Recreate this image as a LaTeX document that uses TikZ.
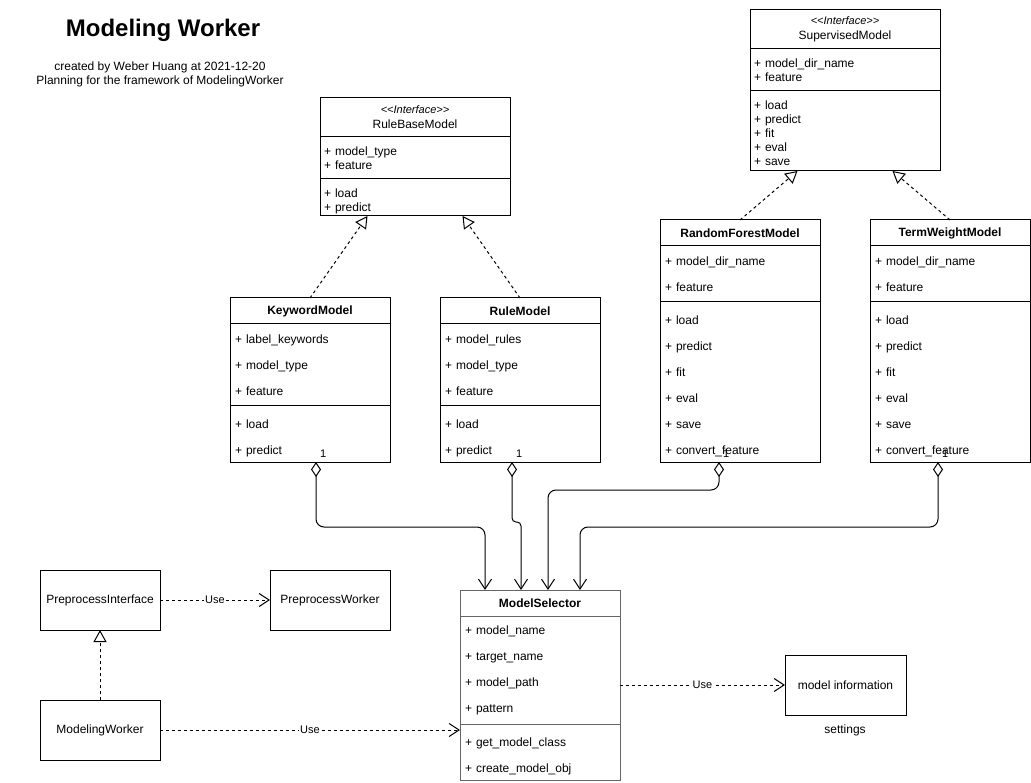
\documentclass[tikz,border=0pt]{standalone}
\usepackage{fontspec}
\setmainfont{Liberation Sans}
\usetikzlibrary{positioning,calc,arrows.meta}

\begin{document}
\begin{tikzpicture}[x=1pt, y=-1pt,
	every node/.style={outer sep=0pt, font=\fontsize{12}{14}\selectfont},
	head/.style={draw, anchor=north west, inner sep=0pt, minimum height=26pt, font=\fontsize{12}{14}\selectfont\bfseries},
	ihead/.style={draw, anchor=north west, inner sep=0pt, minimum height=39pt, align=center, font=\fontsize{12}{15}\selectfont},
	rows/.style={draw, align=left, inner xsep=5pt, inner ysep=0pt, font=\fontsize{12}{26}\selectfont},
	irows/.style={draw, align=left, inner xsep=4pt, inner ysep=0pt, font=\fontsize{12}{14}\selectfont},
	box/.style={draw, minimum width=120pt, minimum height=60pt, inner sep=0pt},
	mult/.style={anchor=south west, inner sep=1pt, xshift=3pt, yshift=4pt, font=\fontsize{11}{13}\selectfont},
	uselabel/.style={fill=white, inner sep=1pt, font=\fontsize{11}{13}\selectfont},
	realize/.style={dash pattern=on 3pt off 3pt, arrows={-Triangle[open,length=12pt,width=13pt]}},
	depend/.style={dash pattern=on 3pt off 3pt, arrows={-Straight Barb[length=10pt,width=13pt]}},
	aggr/.style={rounded corners=8pt, arrows={Diamond[open,length=15pt,width=10pt]-Straight Barb[length=10pt,width=13pt]}},
	line width=1pt]

	\fill[white] (0,0) rectangle (1031,783);
	\useasboundingbox (0,0) rectangle (1031,783);

	% title
	\node[font=\fontsize{24}{28}\selectfont\bfseries] (title) at (163,30) {Modeling Worker};
	\node[align=center] (subtitle) at (160,74) {created by Weber Huang at 2021-12-20\\Planning for the framework of ModelingWorker};

	% interfaces
	\node[ihead, minimum width=190pt] (rbhead) at (320,98) {{\fontsize{11}{12}\selectfont\textit{\textless\kern0pt\textless Interface\textgreater\kern0pt\textgreater}}\\RuleBaseModel};
	\node[irows, text width=182pt, minimum height=42pt, below=0pt of rbhead] (rbattr) {+ model\_type\\+ feature};
	\node[irows, text width=182pt, minimum height=37pt, text height=17pt, below=0pt of rbattr] (rbops) {+ load\\+ predict};

	\node[ihead, minimum width=190pt] (svhead) at (750,10) {{\fontsize{11}{12}\selectfont\textit{\textless\kern0pt\textless Interface\textgreater\kern0pt\textgreater}}\\SupervisedModel};
	\node[irows, text width=182pt, minimum height=42pt, below=0pt of svhead] (svattr) {+ model\_dir\_name\\+ feature};
	\node[irows, text width=182pt, minimum height=80pt, text height=13pt, below=0pt of svattr] (svops) {+ load\\+ predict\\+ fit\\+ eval\\+ save};

	% models
	\node[head, minimum width=160pt] (kwhead) at (230,298) {KeywordModel};
	\node[rows, text width=150pt, minimum height=82pt, below=0pt of kwhead] (kwattr) {+ label\_keywords\\+ model\_type\\+ feature};
	\node[rows, text width=150pt, minimum height=56pt, text height=17pt, below=0pt of kwattr] (kwops) {+ load\\+ predict};

	\node[head, minimum width=160pt] (rulehead) at (440,298) {RuleModel};
	\node[rows, text width=150pt, minimum height=82pt, below=0pt of rulehead] (ruleattr) {+ model\_rules\\+ model\_type\\+ feature};
	\node[rows, text width=150pt, minimum height=56pt, text height=17pt, below=0pt of ruleattr] (ruleops) {+ load\\+ predict};

	\node[head, minimum width=160pt] (forhead) at (660,220) {RandomForestModel};
	\node[rows, text width=150pt, minimum height=56pt, below=0pt of forhead] (forattr) {+ model\_dir\_name\\+ feature};
	\node[rows, text width=150pt, minimum height=160pt, text height=18pt, below=0pt of forattr] (forops) {+ load\\+ predict\\+ fit\\+ eval\\+ save\\+ convert\_feature};

	\node[head, minimum width=160pt] (termhead) at (870,220) {TermWeightModel};
	\node[rows, text width=150pt, minimum height=56pt, below=0pt of termhead] (termattr) {+ model\_dir\_name\\+ feature};
	\node[rows, text width=150pt, minimum height=160pt, text height=18pt, below=0pt of termattr] (termops) {+ load\\+ predict\\+ fit\\+ eval\\+ save\\+ convert\_feature};

	% selector
	\node[head, draw=black!60, minimum width=160pt] (selhead) at (460,590) {ModelSelector};
	\node[rows, draw=black!60, text width=150pt, minimum height=108pt, below=0pt of selhead] (selattr) {+ model\_name\\+ target\_name\\+ model\_path\\+ pattern};
	\node[rows, draw=black!60, text width=150pt, minimum height=56pt, text height=17pt, below=0pt of selattr] (selops) {+ get\_model\_class\\+ create\_model\_obj};

	% workers
	\node[box] (pinterface) at (100,600) {PreprocessInterface};
	\node[box] (pworker) at (330,600) {PreprocessWorker};
	\node[box] (modeling) at (100,730) {ModelingWorker};
	\node[box, minimum width=121pt] (info) at (845.5,685) {model information};
	\node (settings) at (845,730) {settings};

	% realization
	\draw[realize] (kwhead.north) -- ($(rbops.south west)!0.25!(rbops.south east)$);
	\draw[realize] (rulehead.north) -- ($(rbops.south west)!0.75!(rbops.south east)$);
	\draw[realize] (forhead.north) -- ($(svops.south west)!0.25!(svops.south east)$);
	\draw[realize] (termhead.north) -- ($(svops.south west)!0.75!(svops.south east)$);
	\draw[realize] (modeling.north) -- (pinterface.south);

	% aggregation
	\draw[aggr] ([xshift=6pt]kwops.south) node[mult, name=kwone] {1} -- ++(0,65) -| ([xshift=-55pt]selhead.north);
	\draw[aggr, rounded corners=4pt] ([xshift=-8pt]ruleops.south) node[mult, name=ruleone] {1} -- ++(0,60) -| ([xshift=-19pt]selhead.north);
	\draw[aggr] ([xshift=-21pt]forops.south) node[mult, name=forone] {1} -- ++(0,28) -| ([xshift=8pt]selhead.north);
	\draw[aggr] ([xshift=-12pt]termops.south) node[mult, name=termone] {1} -- ++(0,65) -| ([xshift=40pt]selhead.north);

	% use
	\draw[depend] (pinterface) -- node[uselabel, name=useone] {Use} (pworker);
	\draw[depend] (modeling) -- node[uselabel, name=usetwo] {Use} (modeling -| selops.west);
	\draw[depend] (info -| selattr.east) -- node[uselabel, name=usethree] {Use} (info);
\end{tikzpicture}
\end{document}
